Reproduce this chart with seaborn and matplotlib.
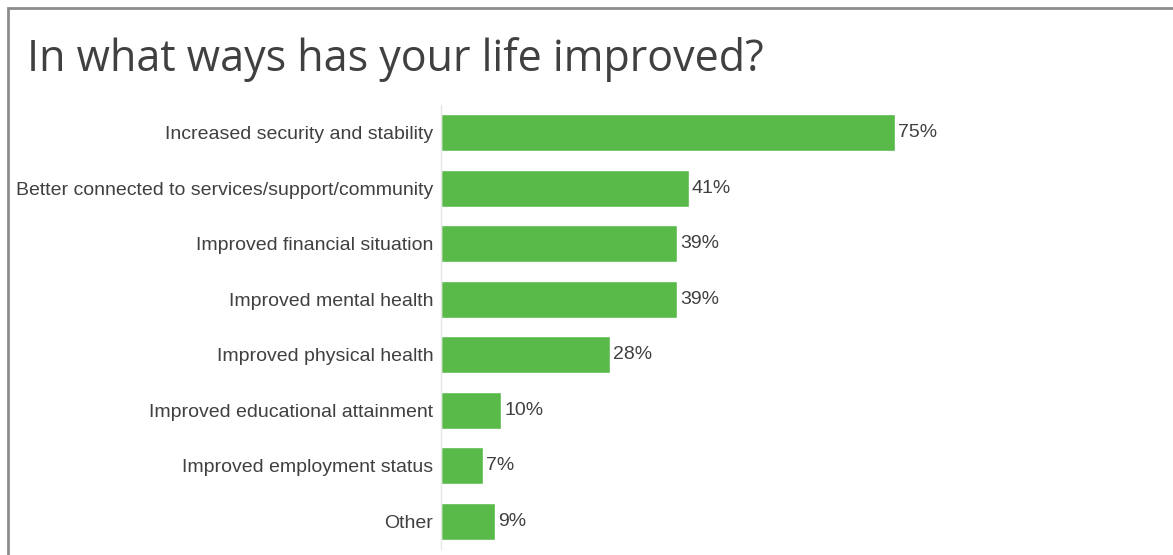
import matplotlib
matplotlib.use("Agg")
import matplotlib.pyplot as plt
from matplotlib.patches import Rectangle
import seaborn as sns
import pandas as pd

title = "In what ways has your life improved?"
categories = [
    "Increased security and stability",
    "Better connected to services/support/community",
    "Improved financial situation",
    "Improved mental health",
    "Improved physical health",
    "Improved educational attainment",
    "Improved employment status",
    "Other",
]
percent = [75, 41, 39, 39, 28, 10, 7, 9]

sns.set_theme(style="white")
plt.rcParams["font.family"] = ["Liberation Sans", "DejaVu Sans"]

df = pd.DataFrame({"category": categories, "percent": percent})

W, H = 1173, 555
fig = plt.figure(figsize=(W / 100, H / 100), dpi=100)
ax = fig.add_axes([441 / W, 1 - 549 / H, 605 / W, (549 - 105) / H])

sns.barplot(data=df, x="percent", y="category", orient="h",
            color="#59BA4A", saturation=1, width=0.67, ax=ax)

ax.set_xlim(0, 100)
ax.set_ylim(7.5, -0.5)
ax.set_xlabel("")
ax.set_ylabel("")
ax.set_xticks([])
ax.tick_params(axis="y", length=0, pad=5.5, labelsize=14, labelcolor="#404040")
for side in ("top", "right", "bottom"):
    ax.spines[side].set_visible(False)
ax.spines["left"].set_color("#e6e6e6")
ax.spines["left"].set_linewidth(1)

ax.bar_label(ax.containers[0], labels=[f"{v}%" for v in percent],
             padding=2, fontsize=14, color="#404040")

fig.text(27 / W, 1 - 59 / H, title, fontsize=31, color="#404040",
         family=["Open Sans", "DejaVu Sans"], va="center", ha="left")

# frame around the slide content
frame = Rectangle((8 / W, -0.2), 1.2, 1.2 - 7.5 / H,
                  transform=fig.transFigure, fill=False,
                  edgecolor="#8c8c8c", linewidth=2, clip_on=False)
fig.patches.append(frame)

fig.savefig("out.png", dpi=100)
